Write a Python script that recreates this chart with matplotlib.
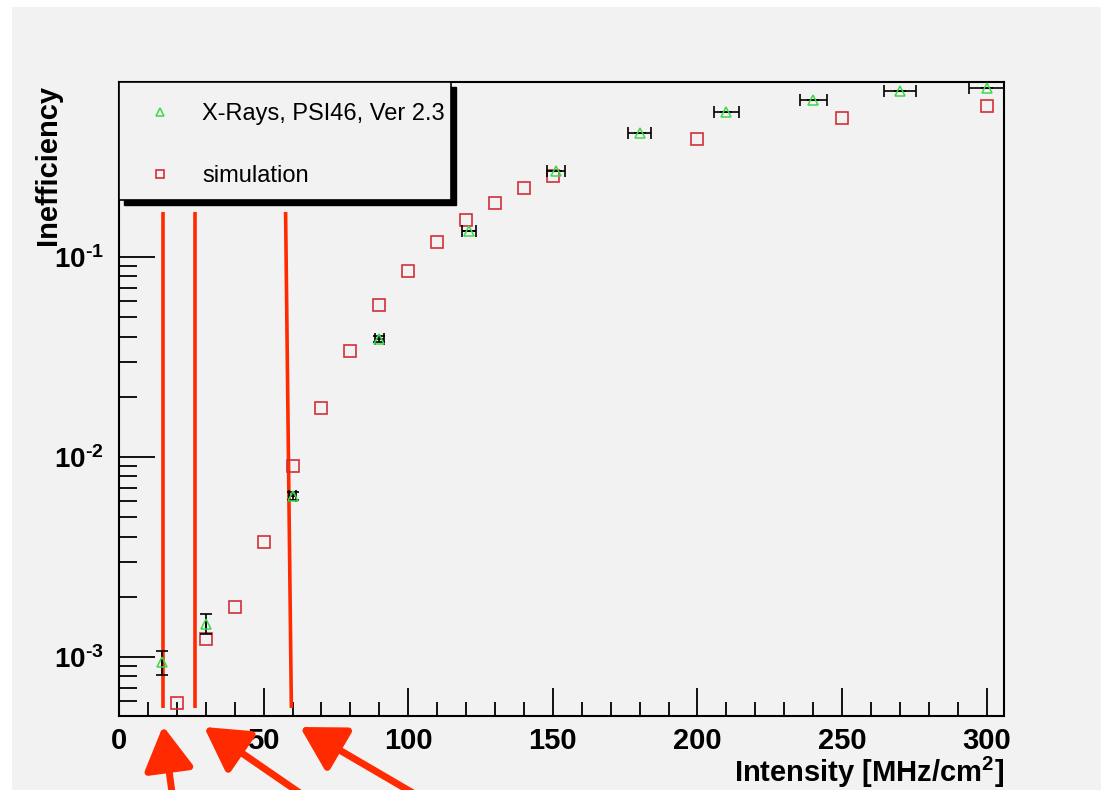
import matplotlib
matplotlib.use("Agg")
import matplotlib.pyplot as plt
from matplotlib.patches import Rectangle
from matplotlib.ticker import FixedLocator, LogLocator, NullFormatter

plt.rcParams["font.family"] = ["Liberation Sans", "DejaVu Sans"]
plt.rcParams["mathtext.fontset"] = "custom"
plt.rcParams["mathtext.rm"] = "Liberation Sans"
plt.rcParams["mathtext.bf"] = "Liberation Sans:bold"
plt.rcParams["mathtext.default"] = "bf"

# X-ray measurement (PSI46, Ver 2.3)
xray_x = [15, 30, 60, 90, 121, 151, 180, 210, 240, 270, 300]
xray_y = [9.4e-4, 1.46e-3, 6.4e-3, 0.039, 0.135, 0.269, 0.417, 0.531, 0.61, 0.676, 0.70]
xray_xerr = [0, 0, 1.2, 1.5, 2.5, 3.1, 3.9, 4.3, 4.7, 5.5, 6.2]
xray_yerr_lo = [1.3e-4, 1.6e-4, 3e-4, 1.5e-3, 0, 0, 0, 0, 0, 0, 0]
xray_yerr_hi = [1.3e-4, 1.8e-4, 3e-4, 1.5e-3, 0, 0, 0, 0, 0, 0, 0]

# simulation
sim_x = [20, 30, 40, 50, 60, 70, 80, 90, 100, 110, 120, 130, 140, 150, 200, 250, 300]
sim_y = [5.9e-4, 1.23e-3, 1.78e-3, 3.76e-3, 9.0e-3, 0.0176, 0.0339, 0.0575, 0.0851,
         0.119, 0.153, 0.186, 0.221, 0.254, 0.389, 0.495, 0.569]

# hand-drawn red marker lines (x at top, x at bottom) and their y range
cut_x_top = [15.3, 26.3, 57.6]
cut_x_bottom = [15.3, 26.3, 59.6]
cut_y = [5.56e-4, 0.168]

y_major = [1e-3, 1e-2, 1e-1]
y_labels = ["$10^{\u20103}$", "$10^{\u20102}$", "$10^{\u20101}$"]

GRAY = "#f2f2f2"
GREEN = "#3fd84a"
SIMRED = "#d2303a"
MARK = "#ff2a00"

fig = plt.figure(figsize=(11.01, 7.90), dpi=100, facecolor="white")
fig.patches.append(Rectangle((12 / 1101, 0), 1, 1 - 7 / 790, transform=fig.transFigure,
                             facecolor=GRAY, edgecolor="none", zorder=-10))
ax = fig.add_axes([119 / 1101, 1 - 716 / 790, 885 / 1101, 634 / 790])
ax.set_facecolor(GRAY)

ax.set_yscale("log")
ax.set_xlim(0, 306)
ax.set_ylim(5.07e-4, 0.75)

for xt, xb in zip(cut_x_top, cut_x_bottom):
    ax.plot([xb, xt], cut_y, color=MARK, lw=2.6, zorder=2, solid_capstyle="butt")

ax.errorbar(xray_x, xray_y, xerr=xray_xerr, yerr=[xray_yerr_lo, xray_yerr_hi],
            fmt="none", ecolor="black", elinewidth=1.2, capsize=4, capthick=1.2, zorder=4)
ax.plot(xray_x, xray_y, "^", ms=7, mfc="none", mec=GREEN, mew=1.1, ls="none",
        zorder=5, label="X-Rays, PSI46, Ver 2.3")
ax.plot(sim_x, sim_y, "s", ms=8, mfc="none", mec=SIMRED, mew=1.2, ls="none",
        zorder=3, label="simulation")

for s in ax.spines.values():
    s.set_linewidth(1.5)

ax.xaxis.set_major_locator(FixedLocator([0, 50, 100, 150, 200, 250, 300]))
ax.xaxis.set_minor_locator(FixedLocator(range(0, 307, 10)))
ax.yaxis.set_major_locator(FixedLocator(y_major))
ax.set_yticklabels(y_labels)
ax.yaxis.set_minor_locator(LogLocator(base=10, subs=range(2, 10)))
ax.yaxis.set_minor_formatter(NullFormatter())
ax.tick_params(which="both", direction="in", top=False, right=False, width=1.3, colors="black")
ax.tick_params(axis="x", which="major", length=20, labelsize=21, pad=8)
ax.tick_params(axis="x", which="minor", length=10)
ax.tick_params(axis="y", which="major", length=26, labelsize=20, pad=11)
ax.tick_params(axis="y", which="minor", length=13)
for lab in ax.get_xticklabels():
    lab.set_fontweight("bold")

ax.set_xlabel(r"Intensity [MHz/cm$^{2}$]", fontsize=21, fontweight="bold", loc="right", labelpad=0)
ax.set_ylabel("Inefficiency", fontsize=21, fontweight="bold", loc="top")
ax.yaxis.set_label_coords((62 - 119) / 885, 1 - 3 / 634)

# legend box with a solid black shadow
lx1 = (451 - 119) / 885
ly0 = (716 - 200) / 634
ax.add_patch(Rectangle((5 / 885, ly0 - 5 / 634), lx1, 1 - ly0, transform=ax.transAxes,
                       facecolor="black", edgecolor="black", clip_on=False, zorder=6))
ax.add_patch(Rectangle((0, ly0), lx1, 1 - ly0, transform=ax.transAxes,
                       facecolor=GRAY, edgecolor="black", lw=1.2, clip_on=False, zorder=7))
leg = ax.legend(loc="center left", bbox_to_anchor=(0.0252, 0.900), frameon=False,
                fontsize=17, labelspacing=1.69, handlelength=1.2, handletextpad=1.19,
                borderpad=0.2, borderaxespad=0)
leg.set_zorder(8)
for h in leg.legend_handles:
    h.set_markersize(6)

# red arrows pointing at the cut lines, drawn in figure pixel coordinates
arrow_tips = [(163, 726), (204, 727), (300, 727)]
arrow_tails = [(173, 800), (310, 800), (425, 800)]
for (tx, ty), (bx, by) in zip(arrow_tips, arrow_tails):
    ax.annotate("", xy=(tx, 790 - ty), xycoords="figure pixels",
                xytext=(bx, 790 - by), textcoords="figure pixels",
                arrowprops=dict(arrowstyle="-|>,head_length=1.4,head_width=0.8",
                                mutation_scale=19, color=MARK, lw=5,
                                shrinkA=0, shrinkB=0),
                annotation_clip=False)

fig.savefig("out.png", dpi=100, facecolor="white")
